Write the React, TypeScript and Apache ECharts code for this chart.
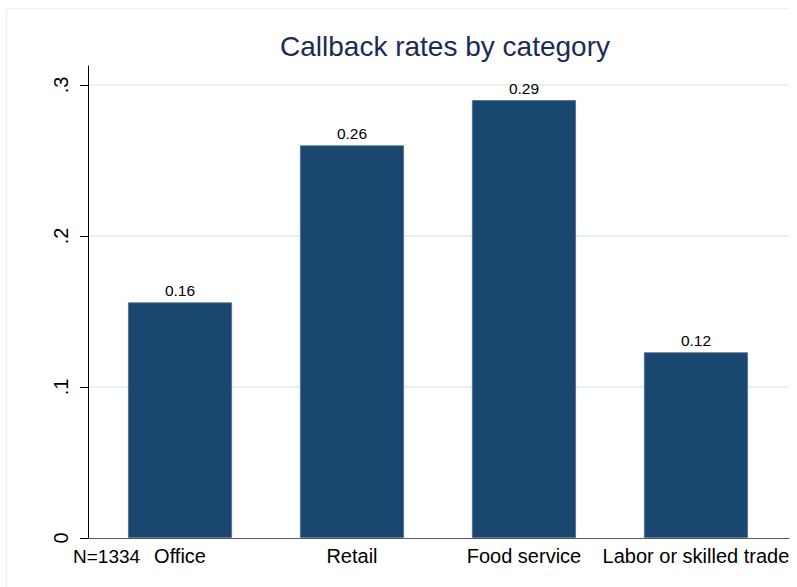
import React, { useEffect, useRef } from "react";
import * as echarts from "echarts";

const categories = ["Office", "Retail", "Food service", "Labor or skilled trade"];
const callbackRates = [0.156, 0.26, 0.29, 0.123];
const barLabels = ["0.16", "0.26", "0.29", "0.12"];
const yTicks = [0, 0.1, 0.2, 0.3];
const yTickLabels = ["0", ".1", ".2", ".3"];
const noteText = "N=1334";
const titleText = "Callback rates by category";

export default function App() {
  const ref = useRef<HTMLDivElement>(null);
  useEffect(() => {
    if (!ref.current) return;
    const chart = echarts.init(ref.current, null, { renderer: "svg" });
    const font = "'Liberation Sans', Arial, Helvetica, sans-serif";
    chart.setOption({
      animation: false,
      backgroundColor: "#ffffff",
      textStyle: { fontFamily: font },
      title: {
        text: titleText,
        left: 440,
        textAlign: "center",
        top: 27,
        textStyle: { fontFamily: font, fontSize: 28, fontWeight: "normal", color: "#1c2b54" },
      },
      grid: { left: 88, right: 8, top: 66, bottom: 49 },
      xAxis: {
        type: "value",
        min: -0.535,
        max: 3.541,
        splitLine: { show: false },
        axisTick: { show: false },
        axisLine: { show: true, onZero: false, lineStyle: { color: "#5a5a5a", width: 1 } },
        axisLabel: {
          customValues: [0, 1, 2, 3],
          formatter: (v: number) => categories[Math.round(v)] ?? "",
          fontSize: 20,
          color: "#000",
          margin: 8,
          fontFamily: font,
        },
      },
      yAxis: {
        type: "value",
        min: 0,
        max: 0.3126,
        splitLine: { show: false },
        axisLine: { show: true, onZero: false, lineStyle: { color: "#000", width: 1 } },
        axisTick: { show: true, customValues: yTicks, length: 8, lineStyle: { color: "#000" } },
        axisLabel: {
          customValues: yTicks,
          rotate: 90,
          formatter: (v: number) => {
            const i = yTicks.findIndex((t) => Math.abs(t - v) < 1e-6);
            return i >= 0 ? yTickLabels[i] : "";
          },
          fontSize: 20,
          color: "#000",
          margin: 17,
          fontFamily: font,
        },
      },
      series: [
        {
          type: "scatter",
          data: callbackRates.map((v, i) => [i, v]),
          symbolSize: 0,
          silent: true,
          z: 0,
          markLine: {
            z: 0,
            silent: true,
            symbol: "none",
            label: { show: false },
            lineStyle: { color: "#e3ecef", width: 1.5, type: "solid" },
            data: yTicks.slice(1).map((t) => ({ yAxis: t })),
          },
        },
        {
          type: "bar",
          data: callbackRates.map((v, i) => [i, v]),
          barWidth: 104,
          itemStyle: { color: "#1a476f", borderColor: "#4a6d8e", borderWidth: 0.8 },
          label: {
            show: true,
            position: "top",
            distance: 4,
            fontSize: 15.5,
            color: "#000",
            fontFamily: font,
            formatter: (p: any) => barLabels[p.dataIndex],
          },
          z: 3,
        },
      ],
      graphic: [
        {
          type: "line",
          shape: { x1: 6, y1: 8.5, x2: 789, y2: 8.5 },
          style: { stroke: "#e8f0f2", lineWidth: 1 },
          silent: true,
        },
        {
          type: "line",
          shape: { x1: 6.5, y1: 8, x2: 6.5, y2: 587 },
          style: { stroke: "#e8f0f2", lineWidth: 1 },
          silent: true,
        },
        {
          type: "text",
          left: 73,
          top: 547,
          style: { text: noteText, fontSize: 19, fill: "#000", fontFamily: font },
        },
      ],
    });
    return () => chart.dispose();
  }, []);
  return (
    <div
      ref={ref}
      style={{ position: "fixed", left: 0, top: 0, width: 797, height: 587, background: "#fff" }}
    />
  );
}
